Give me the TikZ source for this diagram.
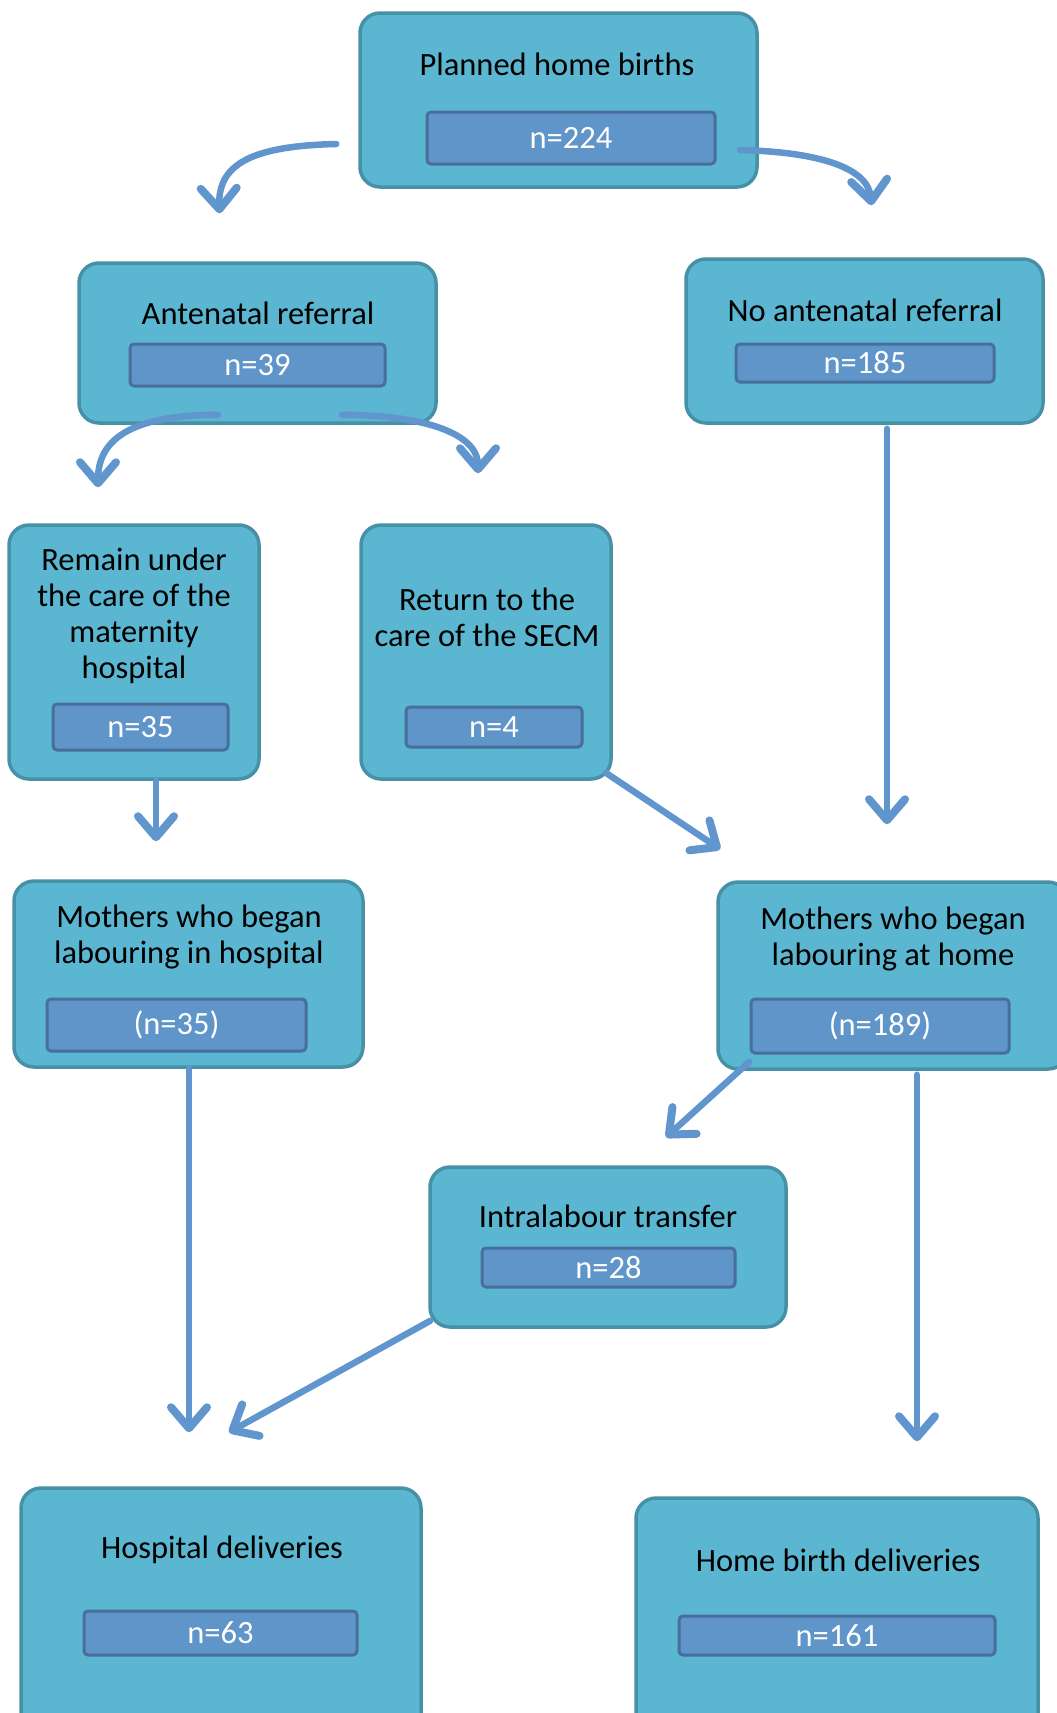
\documentclass[tikz,border=0pt]{standalone}
\usepackage{fontspec}
\setmainfont{Carlito}
\usetikzlibrary{arrows.meta,calc}
\definecolor{boxfill}{RGB}{91,183,209}
\definecolor{boxline}{RGB}{70,145,165}
\definecolor{nfill}{RGB}{95,149,200}
\definecolor{nline}{RGB}{72,110,155}
\definecolor{arr}{RGB}{96,150,205}
\tikzset{
  outerbox/.style={draw=boxline, fill=boxfill, line width=3.5pt, rounded corners=20pt, inner sep=0pt},
  nbox/.style={draw=nline, fill=nfill, line width=3pt, rounded corners=4pt, inner sep=0pt, text=white, font=\fontsize{32.5}{36}\selectfont},
  title/.style={align=center, inner sep=0pt, font=\fontsize{32.5}{36}\selectfont},
  flow/.style={draw=arr, line width=6.5pt, line cap=round, -{Straight Barb[length=21pt,width=36pt,line width=8pt,round]}}
}
\begin{document}
\begin{tikzpicture}[x=1pt,y=-1pt]
\useasboundingbox (0,0) rectangle (1057,1713);
\clip (0,0) rectangle (1057,1713);
% outer boxes
\node[outerbox, minimum width=397, minimum height=174] (plan) at (558.5,100) {};
\node[outerbox, minimum width=357, minimum height=160] (ante) at (257.5,343) {};
\node[outerbox, minimum width=357, minimum height=164] (noante) at (864.5,341) {};
\node[outerbox, minimum width=250, minimum height=254] (remain) at (134,652) {};
\node[outerbox, minimum width=250, minimum height=254] (ret) at (486,652) {};
\node[outerbox, minimum width=349, minimum height=186] (mhosp) at (188.5,974) {};
\node[outerbox, minimum width=350, minimum height=187] (mhome) at (893,975.5) {};
\node[outerbox, minimum width=356, minimum height=160] (intra) at (608,1247) {};
\node[outerbox, minimum width=400, minimum height=272] (hdel) at (221,1624) {};
\node[outerbox, minimum width=402, minimum height=272] (hbd) at (837,1634) {};
% titles
\node[title] (tplan) at (557,64) {Planned home births};
\node[title] (tante) at (258,313) {Antenatal referral};
\node[title] (tnoante) at (865,310) {No antenatal referral};
\node[title] (tremain) at (134,616) {Remain under\\the care of the\\maternity\\hospital};
\node[title] (tret) at (487,617) {Return to the\\care of the SECM};
\node[title] (tmhosp) at (189,937) {Mothers who began\\labouring in hospital};
\node[title] (tmhome) at (893,939) {Mothers who began\\labouring at home};
\node[title] (tintra) at (608,1216) {Intralabour transfer};
\node[title] (thdel) at (222,1550) {Hospital deliveries};
\node[title] (thbd) at (838,1560) {Home birth deliveries};
% count boxes
\node[nbox, minimum width=288, minimum height=52] (nplan) at (571,138) {n=224};
\node[nbox, minimum width=255, minimum height=42] (nante) at (257.5,365) {n=39};
\node[nbox, minimum width=258, minimum height=38] (nnoante) at (865,363) {n=185};
\node[nbox, minimum width=175, minimum height=46] (nremain) at (140.5,727) {n=35};
\node[nbox, minimum width=176, minimum height=40] (nret) at (494,727) {n=4};
\node[nbox, minimum width=259, minimum height=52] (nmhosp) at (176.5,1025) {(n=35)};
\node[nbox, minimum width=258, minimum height=54] (nmhome) at (880,1026) {(n=189)};
\node[nbox, minimum width=253, minimum height=39] (nintra) at (608.5,1267.5) {n=28};
\node[nbox, minimum width=273, minimum height=44] (nhdel) at (220.5,1633) {n=63};
\node[nbox, minimum width=316, minimum height=39] (nhbd) at (837,1635.5) {n=161};
% arrow end points
\coordinate (a1s) at ($(plan.west)+(-22,44)$);
\coordinate (a1e) at ($(ante.north)+(-38,-48)$);
\coordinate (a2s) at ($(plan.east)+(-19,50)$);
\coordinate (a2e) at ($(noante.north)+(7,-52)$);
\coordinate (a3s) at ($(ante.south)+(-39.5,-10)$);
\coordinate (a3e) at ($(remain.north)+(-36,-36)$);
\coordinate (a4s) at ($(ante.south)+(84.5,-10)$);
\coordinate (a4e) at ($(ret.north)+(-8,-50)$);
\coordinate (a5s) at ($(noante.south)+(22.5,4)$);
\coordinate (a5e) at ($(mhome.north)+(-6,-56)$);
\coordinate (a6s) at ($(remain.south)+(22,0)$);
\coordinate (a6e) at ($(mhosp.north)+(-32.5,-38)$);
\coordinate (a7s) at ($(ret.south east)+(-7,-8)$);
\coordinate (a7e) at ($(mhome.north west)+(4,-31)$);
\coordinate (a8s) at ($(mhosp.south)+(0.5,0)$);
\coordinate (a8e) at ($(hdel.north)+(-32,-54)$);
\coordinate (a9s) at ($(mhome.south west)+(33,-9)$);
\coordinate (a9e) at ($(intra.north)+(58,-28)$);
\coordinate (a10s) at ($(mhome.south)+(24,4)$);
\coordinate (a10e) at ($(hbd.north)+(80,-55)$);
\coordinate (a11s) at ($(intra.south west)+(2,-8)$);
\coordinate (a11e) at ($(hdel.north)+(8,-54)$);
% arrows
\draw[flow] (a1s) .. controls (250,146) and (218,165) .. (a1e);
\draw[flow] (a2s) .. controls (820,152) and (868,168) .. (a2e);
\draw[flow] (a3s) .. controls (130,415) and (98,440) .. (a3e);
\draw[flow] (a4s) .. controls (420,415) and (478,432) .. (a4e);
\draw[flow] (a5s) -- (a5e);
\draw[flow] (a6s) -- (a6e);
\draw[flow] (a7s) -- (a7e);
\draw[flow] (a8s) -- (a8e);
\draw[flow] (a9s) -- (a9e);
\draw[flow] (a10s) -- (a10e);
\draw[flow] (a11s) -- (a11e);
\end{tikzpicture}
\end{document}
